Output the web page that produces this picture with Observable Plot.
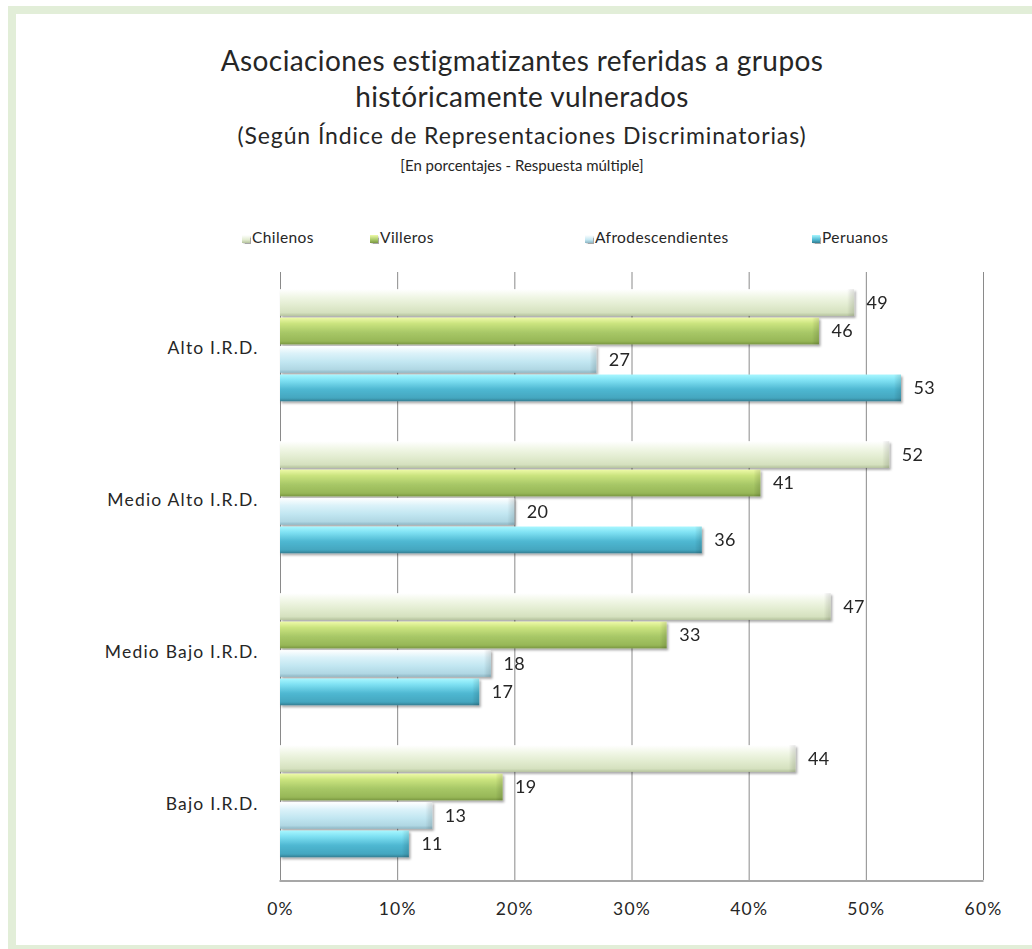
<!DOCTYPE html>
<html>
<head>
<meta charset="utf-8">
<script src="https://cdn.jsdelivr.net/npm/d3@7"></script>
<script src="https://cdn.jsdelivr.net/npm/@observablehq/plot@0.6"></script>
<style>
  html, body { margin: 0; padding: 0; background: #fff; }
  body { width: 1032px; height: 949px; position: relative; overflow: hidden; font-family: Lato, "Open Sans", sans-serif; color: #262626; }
  .frame { position: absolute; left: 8px; top: 6px; width: 1100px; height: 947px; border: 8px solid #e2eed8; box-sizing: border-box; }
  .t { position: absolute; left: 0; width: 1044px; text-align: center; white-space: nowrap; color: #262626; }
  .legend { position: absolute; top: 228px; font-size: 15.5px; letter-spacing: 0.4px; color: #262626; display: flex; align-items: center; }
  .legend i { display: inline-block; width: 8px; height: 8px; margin-right: 2px; margin-top: 3px; box-shadow: 0.5px 0.5px 1px rgba(0,0,0,0.35); }
  #chart { position: absolute; left: 0; top: 260px; }
</style>
</head>
<body>
<div class="frame"></div>
<div class="t" style="top:43px;font-size:28px;letter-spacing:0.4px;">Asociaciones estigmatizantes referidas a grupos</div>
<div class="t" style="top:79px;font-size:28px;letter-spacing:0.4px;">históricamente vulnerados</div>
<div class="t" style="top:121px;font-size:23px;letter-spacing:0.9px;">(Según Índice de Representaciones Discriminatorias)</div>
<div class="t" style="top:156px;font-size:15px;">[En porcentajes - Respuesta múltiple]</div>
<div id="legend"></div>
<svg width="0" height="0" style="position:absolute">
  <defs>
    <linearGradient id="g0" x1="0" y1="0" x2="0" y2="1">
      <stop offset="0" stop-color="#ffffff"/><stop offset="0.3" stop-color="#f0f6e5"/>
      <stop offset="0.6" stop-color="#e2ecd0"/><stop offset="0.88" stop-color="#d5e1bf"/><stop offset="1" stop-color="#b5c39d"/>
    </linearGradient>
    <linearGradient id="g1" x1="0" y1="0" x2="0" y2="1">
      <stop offset="0" stop-color="#eefaa8"/><stop offset="0.22" stop-color="#cbe47f"/>
      <stop offset="0.55" stop-color="#a8c867"/><stop offset="0.88" stop-color="#97b757"/><stop offset="1" stop-color="#7a9742"/>
    </linearGradient>
    <linearGradient id="g2" x1="0" y1="0" x2="0" y2="1">
      <stop offset="0" stop-color="#ffffff"/><stop offset="0.28" stop-color="#dbf2f9"/>
      <stop offset="0.6" stop-color="#c1e6f1"/><stop offset="0.88" stop-color="#b0d7e3"/><stop offset="1" stop-color="#8db6c4"/>
    </linearGradient>
    <linearGradient id="g3" x1="0" y1="0" x2="0" y2="1">
      <stop offset="0" stop-color="#a8f7ff"/><stop offset="0.22" stop-color="#7fe1f3"/>
      <stop offset="0.55" stop-color="#4fb8d2"/><stop offset="0.88" stop-color="#44a6bf"/><stop offset="1" stop-color="#337d91"/>
    </linearGradient>
    <linearGradient id="cap" x1="0" y1="0" x2="1" y2="0">
      <stop offset="0" stop-color="#000" stop-opacity="0"/><stop offset="0.4" stop-color="#000" stop-opacity="0.05"/>
      <stop offset="1" stop-color="#000" stop-opacity="0.10"/>
    </linearGradient>
    <filter id="shadow" x="-5%" y="-20%" width="110%" height="160%">
      <feDropShadow dx="1.5" dy="2" stdDeviation="1.3" flood-color="#000" flood-opacity="0.33"/>
    </filter>
  </defs>
</svg>
<div id="chart"></div>
<script>
// ---- data ----
const categories = ["Alto I.R.D.", "Medio Alto I.R.D.", "Medio Bajo I.R.D.", "Bajo I.R.D."];
const series = ["Chilenos", "Villeros", "Afrodescendientes", "Peruanos"];
const chilenos = [49, 52, 47, 44];
const villeros = [46, 41, 33, 19];
const afrodescendientes = [27, 20, 18, 13];
const peruanos = [53, 36, 17, 11];
const xTicks = [0, 10, 20, 30, 40, 50, 60];

const seriesValues = [chilenos, villeros, afrodescendientes, peruanos];
const gradIds = ["g0", "g1", "g2", "g3"];
const legendCss = [
  "linear-gradient(#ffffff, #e2ecd0 60%, #b5c39d)",
  "linear-gradient(#eefaa8, #a8c867 60%, #7a9742)",
  "linear-gradient(#ffffff, #c3e7f2 60%, #8db6c4)",
  "linear-gradient(#a8f7ff, #4fb8d2 60%, #337d91)"
];
const legendX = [242, 370, 585, 812];

const data = categories.flatMap((c, i) =>
  series.map((s, j) => ({category: c, series: s, value: seriesValues[j][i]}))
);

// ---- legend ----
const leg = document.getElementById("legend");
series.forEach((s, j) => {
  const d = document.createElement("div");
  d.className = "legend";
  d.style.left = legendX[j] + "px";
  d.innerHTML = `<i style="background:${legendCss[j]}"></i><span>${s}</span>`;
  leg.appendChild(d);
});

// ---- chart ----
const W = 1032, H = 671, MT = 10, MB = 50, ML = 280, MR = 49;
const barMarks = series.flatMap((s, j) => [
  Plot.barX(data, {filter: d => d.series === s, x: "value", y: "series", fill: `url(#${gradIds[j]})`}),
  Plot.barX(data, {filter: d => d.series === s, x1: "value", x2: "value", y: "series", insetLeft: -7, fill: "url(#cap)"})
]);

const chart = Plot.plot({
  width: W,
  height: H,
  marginLeft: ML,
  marginRight: MR,
  marginTop: MT,
  marginBottom: MB,
  style: {fontFamily: "Lato, 'Open Sans', sans-serif", fontSize: "17.5px", color: "#262626", background: "transparent", letterSpacing: "1.2px"},
  facet: {data, y: "category"},
  fy: {domain: categories, padding: 0, label: null, axis: "left", tickSize: 0, tickPadding: 22},
  y: {domain: series, axis: null, paddingInner: 0.06, paddingOuter: 0.7, align: 0.43, round: false},
  x: {domain: [0, 60], ticks: xTicks, tickFormat: d => d + "%", label: null, tickSize: 0, tickPadding: 22},
  marks: [
    Plot.ruleX(xTicks, {stroke: "#8a8a8a", strokeWidth: 1}),
    ...barMarks,
    Plot.text(data, {x: "value", y: "series", text: d => String(d.value), dx: 12, textAnchor: "start", fontSize: 18, fill: "#262626"})
  ]
});

chart.querySelectorAll('g[aria-label="bar"]').forEach(g => g.setAttribute("filter", "url(#shadow)"));
chart.querySelectorAll('g[aria-label="text"]').forEach(g => g.setAttribute("letter-spacing", "0.3px"));

// bottom axis line, from the x scale's range and the facet area's bottom
let xr = [ML, W - MR];
try { const xs = chart.scale("x"); if (xs && xs.range) xr = xs.range; } catch (e) {}
let yBottom = H - MB;
try { const fys = chart.scale("fy"); if (fys && fys.range) yBottom = Math.max(...fys.range); } catch (e) {}
const ln = document.createElementNS("http://www.w3.org/2000/svg", "line");
ln.setAttribute("x1", Math.min(...xr) - 0.5); ln.setAttribute("x2", Math.max(...xr) + 0.5);
ln.setAttribute("y1", yBottom); ln.setAttribute("y2", yBottom);
ln.setAttribute("stroke", "#8a8a8a");
ln.setAttribute("stroke-width", "1.5");
chart.appendChild(ln);
document.getElementById("chart").appendChild(chart);
</script>
</body>
</html>
